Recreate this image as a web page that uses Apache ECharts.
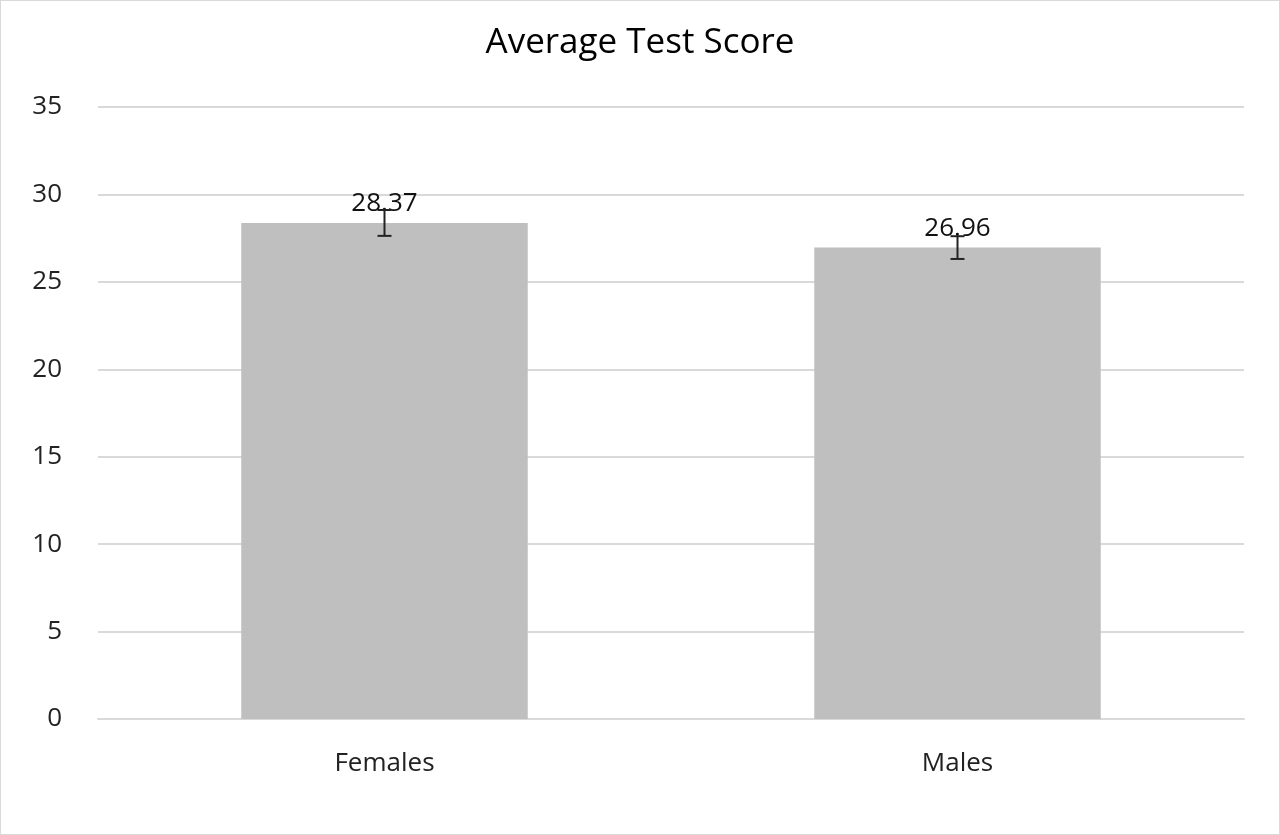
<!DOCTYPE html>
<html><head><meta charset="utf-8">
<script src="https://cdn.jsdelivr.net/npm/echarts@6/dist/echarts.min.js"></script>
<style>html,body{margin:0;padding:0;background:#fff}#c{width:1280px;height:835px;box-sizing:border-box;border:1px solid #d9d9d9}</style>
</head><body><div id="c"></div>
<script>
const categories = ['Females', 'Males'];
const scores = [28.37, 26.96];
const errLow = [27.63, 26.31];
const errHigh = [29.11, 27.61];
const yTicks = [0, 35, 5];

const chart = echarts.init(document.getElementById('c'));
const font = '"Open Sans", "Liberation Sans", sans-serif';
chart.setOption({
  animation: false,
  title: {text: 'Average Test Score', left: 'center', top: 20,
    textStyle: {fontFamily: font, fontSize: 35, fontWeight: 'normal', color: '#000'}},
  grid: {left: 97, right: 35, top: 106, bottom: 115},
  xAxis: {type: 'category', data: categories,
    axisLine: {lineStyle: {color: '#d9d9d9', width: 2}}, axisTick: {show: false},
    axisLabel: {fontFamily: font, fontSize: 26, color: '#222', margin: 32}},
  yAxis: {type: 'value', min: yTicks[0], max: yTicks[1], interval: yTicks[2],
    axisLine: {show: false}, axisTick: {show: false},
    splitLine: {lineStyle: {color: '#d9d9d9', width: 2}},
    axisLabel: {fontFamily: font, fontSize: 26, color: '#222', margin: 36}},
  series: [
    {type: 'bar', data: scores, barWidth: '50%', itemStyle: {color: '#bfbfbf'},
     label: {show: true, position: 'top', distance: 6, fontFamily: font, fontSize: 26, color: '#111',
       formatter: p => p.value.toFixed(2)}},
    {type: 'custom', data: categories.map((c, i) => [i, errLow[i], errHigh[i]]), z: 10,
     renderItem: (params, api) => {
       const lo = api.coord([api.value(0), api.value(1)]);
       const hi = api.coord([api.value(0), api.value(2)]);
       const w = 7, s = {stroke: '#222', lineWidth: 2};
       return {type: 'group', children: [
         {type: 'line', shape: {x1: lo[0], y1: lo[1], x2: hi[0], y2: hi[1]}, style: s},
         {type: 'line', shape: {x1: lo[0]-w, y1: lo[1], x2: lo[0]+w, y2: lo[1]}, style: s},
         {type: 'line', shape: {x1: hi[0]-w, y1: hi[1], x2: hi[0]+w, y2: hi[1]}, style: s}
       ]};
     }}
  ]
});
</script></body></html>
